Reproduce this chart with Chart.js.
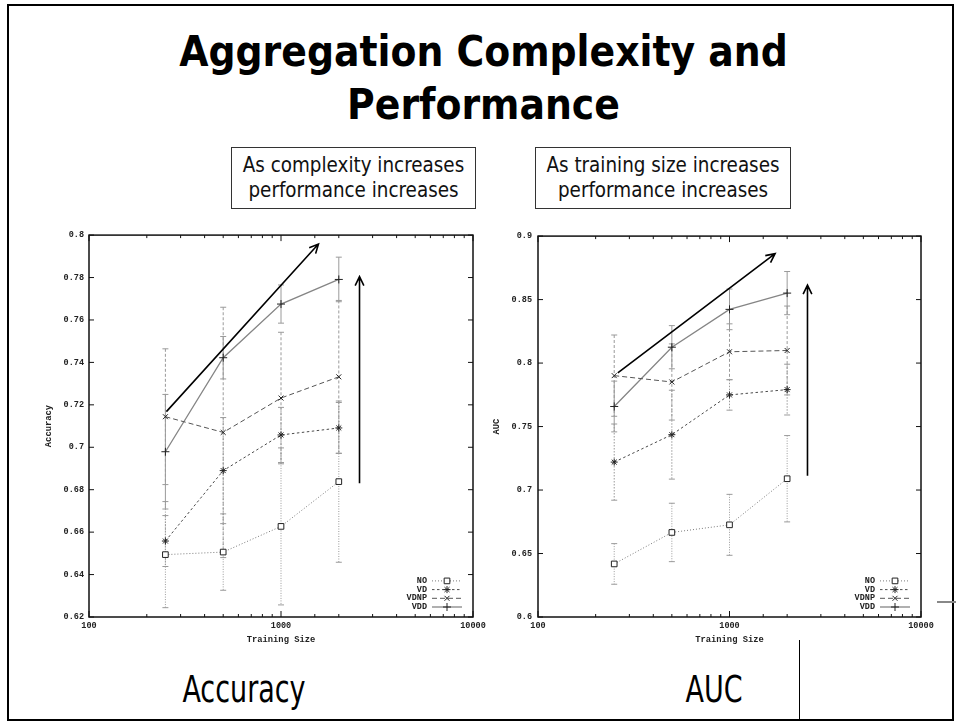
<!DOCTYPE html>
<html>
<head>
<meta charset="utf-8">
<script src="https://cdn.jsdelivr.net/npm/chart.js@4.4.0/dist/chart.umd.min.js"></script>
<style>
  html, body { margin: 0; padding: 0; background: #fff; }
  body { width: 956px; height: 722px; position: relative; overflow: hidden;
         font-family: "DejaVu Sans Condensed", "DejaVu Sans", sans-serif; color: #000; }
  .frame { position: absolute; left: 7px; top: 4px; width: 947px; height: 717px;
           box-sizing: border-box; border: 2px solid #000; }
  .title { position: absolute; left: 0; width: 967px; text-align: center; font-weight: bold;
           font-size: 42px; line-height: 42px; white-space: nowrap; }
  .box { position: absolute; box-sizing: border-box; border: 1px solid #333; height: 62px; top: 147px; }
  .boxtxt { position: absolute; text-align: center; font-size: 20.4px; line-height: 25px; white-space: nowrap; color: #111; }
  .label { position: absolute; text-align: center; font-size: 30px; line-height: 30px; width: 200px;
           transform: scaleY(1.26); transform-origin: 50% 25px; }
  canvas { position: absolute; }
  .vline { position: absolute; left: 799px; top: 640px; width: 1px; height: 80px; background: #000; }
  .hline { position: absolute; left: 937px; top: 601px; width: 19px; height: 2px; background: #888; }
</style>
</head>
<body>
<div class="frame"></div>
<div class="title" style="top:31px">Aggregation Complexity and</div>
<div class="title" style="top:84px">Performance</div>

<div class="box" style="left:231px; width:245px"></div>
<div class="boxtxt" style="left:231px; width:245px; top:153px">As complexity increases<br>performance increases</div>
<div class="box" style="left:535px; width:256px"></div>
<div class="boxtxt" style="left:535px; width:256px; top:153px">As training size increases<br>performance increases</div>

<canvas id="accChart" width="470" height="425" style="left:20px; top:225px"></canvas>
<canvas id="aucChart" width="466" height="425" style="left:490px; top:225px"></canvas>

<div class="label" style="left:144px; top:677px">Accuracy</div>
<div class="label" style="left:614px; top:677px">AUC</div>
<div class="vline"></div>
<div class="hline"></div>

<script>
// ===== Dữ liệu =====
const sizes = [250, 500, 1000, 2000];
const seriesNames = ["NO", "VD", "VDNP", "VDD"];

// Accuracy
const accNO = [0.6494, 0.6506, 0.6627, 0.6838];
const accNOErr = [0.025, 0.018, 0.037, 0.038];
const accVD = [0.6558, 0.689, 0.7058, 0.7091];
const accVDErr = [0.012, 0.025, 0.013, 0.012];
const accVDNP = [0.7144, 0.707, 0.7232, 0.7332];
const accVDNPErr = [0.032, 0.059, 0.031, 0.036];
const accVDD = [0.6979, 0.7422, 0.7675, 0.7791];
const accVDDErr = [0.027, 0.01, 0.009, 0.0105];

// AUC
const aucNO = [0.6418, 0.6666, 0.6726, 0.7089];
const aucNOErr = [0.016, 0.023, 0.024, 0.034];
const aucVD = [0.722, 0.7436, 0.7749, 0.7791];
const aucVDErr = [0.03, 0.035, 0.012, 0.02];
const aucVDNP = [0.7901, 0.7851, 0.8089, 0.8099];
const aucVDNPErr = [0.032, 0.03, 0.022, 0.035];
const aucVDD = [0.7658, 0.8125, 0.8423, 0.8551];
const aucVDDErr = [0.02, 0.017, 0.016, 0.017];

// trục
const xMin = 100, xMax = 10000;
const accYMin = 0.62, accYMax = 0.8, accStep = 0.02;
const aucYMin = 0.6, aucYMax = 0.9, aucStep = 0.05;

// mũi tên chú thích (toạ độ dữ liệu: x1, y1, x2, y2)
const accArrows = [[253, 0.7168, 1567, 0.7958], [2564, 0.683, 2564, 0.7804]];
const aucArrows = [[261, 0.7922, 1730, 0.8862], [2554, 0.7112, 2554, 0.8614]];

const monoFont = "'Liberation Mono', 'DejaVu Sans Mono', monospace";
const styles = [
  { color: "#7a7a7a", dash: [1, 2], point: "rect", r: 4, width: 1, errDash: [1, 1.5] },
  { color: "#4a4a4a", dash: [2.5, 2.5], point: "star", r: 3.5, width: 1, errDash: [1.5, 1.5] },
  { color: "#555", dash: [5, 3], point: "crossRot", r: 3.5, width: 1, errDash: [3, 2] },
  { color: "#858585", dash: [], point: "cross", r: 4, width: 1.3, errDash: [] },
];

function makeDatasets(vals, errs) {
  return vals.map((v, k) => ({
    label: seriesNames[k],
    data: sizes.map((s, i) => ({ x: s, y: v[i] })),
    errors: errs[k],
    borderColor: styles[k].color,
    borderWidth: styles[k].width,
    borderDash: styles[k].dash,
    pointStyle: styles[k].point,
    pointRadius: styles[k].r,
    pointBorderColor: "#222",
    pointBackgroundColor: "#fff",
    pointBorderWidth: 1,
    errDash: styles[k].errDash,
    fill: false,
    tension: 0,
  }));
}

function drawMarker(ctx, style, r, x, y) {
  ctx.save();
  ctx.setLineDash([]);
  ctx.strokeStyle = "#222";
  ctx.fillStyle = "#fff";
  ctx.lineWidth = 1;
  if (Chart.helpers && Chart.helpers.drawPoint) {
    Chart.helpers.drawPoint(ctx, { pointStyle: style, radius: r, rotation: 0, borderWidth: 1 }, x, y);
  }
  ctx.restore();
}

// plugin: khung, vạch chia hướng vào trong, thanh sai số, chú giải, mũi tên
const gnuplotLook = {
  id: "gnuplotLook",
  beforeDatasetsDraw(chart) {
    const { ctx, chartArea: a, scales: { x, y } } = chart;
    ctx.save();
    ctx.beginPath();
    ctx.rect(a.left, a.top, a.right - a.left, a.bottom - a.top);
    ctx.clip();
    chart.data.datasets.forEach((ds) => {
      ctx.strokeStyle = "#9a9a9a";
      ctx.lineWidth = 1;
      ds.data.forEach((p, i) => {
        const e = ds.errors[i];
        const px = x.getPixelForValue(p.x);
        const t = y.getPixelForValue(p.y + e);
        const b = y.getPixelForValue(p.y - e);
        ctx.setLineDash(ds.errDash);
        ctx.beginPath();
        ctx.moveTo(px, t);
        ctx.lineTo(px, b);
        ctx.stroke();
        ctx.setLineDash([]);
        ctx.beginPath();
        ctx.moveTo(px - 3, t); ctx.lineTo(px + 3, t);
        ctx.moveTo(px - 3, b); ctx.lineTo(px + 3, b);
        ctx.stroke();
      });
    });
    ctx.restore();
  },
  afterDatasetsDraw(chart, args, opts) {
    const { ctx, chartArea: a, scales: { x, y } } = chart;
    ctx.save();
    ctx.setLineDash([]);
    ctx.strokeStyle = "#111";
    ctx.lineWidth = 1.5;
    ctx.strokeRect(a.left, a.top, a.right - a.left, a.bottom - a.top);

    ctx.lineWidth = 1;
    y.ticks.forEach((t) => {
      const py = y.getPixelForValue(t.value);
      ctx.beginPath();
      ctx.moveTo(a.left, py); ctx.lineTo(a.left + 5, py);
      ctx.moveTo(a.right, py); ctx.lineTo(a.right - 5, py);
      ctx.stroke();
    });
    x.ticks.forEach((t) => {
      const lg = Math.log10(t.value);
      const len = Math.abs(lg - Math.round(lg)) < 1e-9 ? 6 : 3;
      const px = x.getPixelForValue(t.value);
      ctx.beginPath();
      ctx.moveTo(px, a.bottom); ctx.lineTo(px, a.bottom - len);
      ctx.moveTo(px, a.top); ctx.lineTo(px, a.top + len);
      ctx.stroke();
    });

    // chú giải
    ctx.font = "bold 8.5px " + monoFont;
    ctx.textAlign = "right";
    ctx.textBaseline = "middle";
    const n = chart.data.datasets.length;
    chart.data.datasets.forEach((ds, i) => {
      const ly = a.bottom - 10 - (n - 1 - i) * 8.7;
      ctx.fillStyle = "#222";
      ctx.fillText(ds.label, a.right - 46, ly);
      ctx.strokeStyle = ds.borderColor;
      ctx.lineWidth = ds.borderWidth;
      ctx.setLineDash(ds.borderDash);
      ctx.beginPath();
      ctx.moveTo(a.right - 41, ly); ctx.lineTo(a.right - 11, ly);
      ctx.stroke();
      drawMarker(ctx, ds.pointStyle, ds.pointRadius, a.right - 26, ly);
    });

    // mũi tên
    ctx.setLineDash([]);
    ctx.strokeStyle = "#000";
    ctx.lineWidth = 1.6;
    (opts.arrows || []).forEach(([x1, y1, x2, y2]) => {
      const sx = x.getPixelForValue(x1), sy = y.getPixelForValue(y1);
      const ex = x.getPixelForValue(x2), ey = y.getPixelForValue(y2);
      const ang = Math.atan2(ey - sy, ex - sx);
      ctx.beginPath();
      ctx.moveTo(sx, sy); ctx.lineTo(ex, ey);
      ctx.moveTo(ex - 10 * Math.cos(ang - 0.45), ey - 10 * Math.sin(ang - 0.45));
      ctx.lineTo(ex, ey);
      ctx.lineTo(ex - 10 * Math.cos(ang + 0.45), ey - 10 * Math.sin(ang + 0.45));
      ctx.stroke();
    });
    ctx.restore();
  },
};

function makeChart(id, cfg) {
  return new Chart(document.getElementById(id), {
    type: "line",
    data: { datasets: makeDatasets(cfg.vals, cfg.errs) },
    plugins: [gnuplotLook],
    options: {
      responsive: false,
      animation: false,
      layout: { padding: cfg.padding },
      plugins: {
        legend: { display: false },
        tooltip: { enabled: false },
        gnuplotLook: { arrows: cfg.arrows },
      },
      scales: {
        x: {
          type: "logarithmic",
          min: xMin,
          max: xMax,
          grid: { display: false, drawTicks: false },
          border: { display: false },
          afterFit: (s) => { s.height = 33; },
          ticks: {
            autoSkip: false,
            maxRotation: 0,
            padding: 4,
            color: "#222",
            font: { family: monoFont, size: 8.5, weight: "bold" },
            callback: (v) => {
              const lg = Math.log10(v);
              return Math.abs(lg - Math.round(lg)) < 1e-9 ? String(v) : "";
            },
          },
          title: {
            display: true,
            text: "Training Size",
            color: "#222",
            font: { family: monoFont, size: 8.8, weight: "bold" },
            padding: { top: 0, bottom: 5 },
          },
        },
        y: {
          min: cfg.yMin,
          max: cfg.yMax,
          grid: { display: false, drawTicks: false },
          border: { display: false },
          afterFit: (s) => { s.width = cfg.yWidth; },
          ticks: {
            stepSize: cfg.step,
            padding: cfg.tickPad,
            color: "#222",
            font: { family: monoFont, size: 8.5, weight: "bold" },
            callback: (v) => String(Number(v.toFixed(2))),
          },
          title: {
            display: true,
            text: cfg.yTitle,
            color: "#222",
            font: { family: monoFont, size: 8.8, weight: "bold" },
            padding: { top: cfg.titlePad, bottom: 0 },
          },
        },
      },
    },
  });
}

makeChart("accChart", {
  vals: [accNO, accVD, accVDNP, accVDD],
  errs: [accNOErr, accVDErr, accVDNPErr, accVDDErr],
  yMin: accYMin, yMax: accYMax, step: accStep,
  yTitle: "Accuracy", yWidth: 69, tickPad: 5, titlePad: 23.7,
  padding: { left: 0, right: 17, top: 10, bottom: 0 },
  arrows: accArrows,
});

makeChart("aucChart", {
  vals: [aucNO, aucVD, aucVDNP, aucVDD],
  errs: [aucNOErr, aucVDErr, aucVDNPErr, aucVDDErr],
  yMin: aucYMin, yMax: aucYMax, step: aucStep,
  yTitle: "AUC", yWidth: 48, tickPad: 6, titlePad: 1.4,
  padding: { left: 0, right: 35, top: 9, bottom: 0 },
  arrows: aucArrows,
});
</script>
</body>
</html>
